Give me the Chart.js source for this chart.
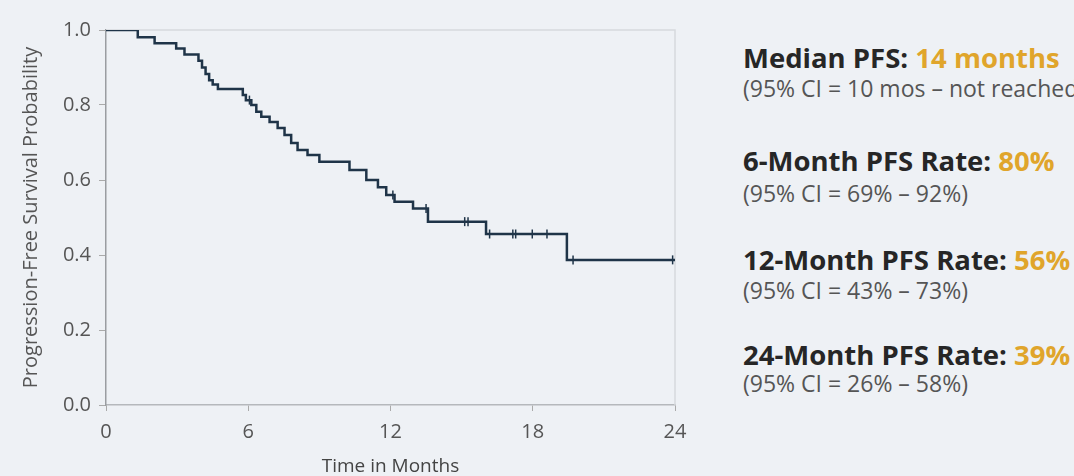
<!DOCTYPE html>
<html>
<head>
<meta charset="utf-8">
<script src="https://cdn.jsdelivr.net/npm/chart.js@4.4.1/dist/chart.umd.min.js"></script>
<style>
  html, body { margin: 0; padding: 0; width: 1074px; height: 476px; overflow: hidden; background: #eef1f5; }
  #wrap { position: absolute; left: 0; top: 0; width: 700px; height: 476px; }
  .txt { position: absolute; left: 743px; white-space: nowrap; font-family: "Open Sans", sans-serif; }
  .head { font-size: 27.5px; line-height: 28px; font-weight: 700; color: #262626; }
  .sub { font-size: 23px; line-height: 23px; color: #555; }
  .hl { color: #e0a52b; }
</style>
</head>
<body>
<div id="wrap"><canvas id="kmChart"></canvas></div>

<div class="txt head" style="top:44px">Median PFS: <span class="hl">14 months</span></div>
<div class="txt sub" style="top:77px">(95% CI = 10 mos – not reached)</div>
<div class="txt head" style="top:147px">6-Month PFS Rate: <span class="hl">80%</span></div>
<div class="txt sub" style="top:182px">(95% CI = 69% – 92%)</div>
<div class="txt head" style="top:246px">12-Month PFS Rate: <span class="hl">56%</span></div>
<div class="txt sub" style="top:279px">(95% CI = 43% – 73%)</div>
<div class="txt head" style="top:341px">24-Month PFS Rate: <span class="hl">39%</span></div>
<div class="txt sub" style="top:372px">(95% CI = 26% – 58%)</div>

<script>
// Kaplan-Meier step curve (time in months, survival after each event)
var eventTimes = [0, 1.34, 2.05, 2.96, 3.31, 3.9, 4.05, 4.2, 4.35, 4.5, 4.72, 5.77, 5.9, 6.13, 6.34, 6.55, 6.9, 7.24,
  7.53, 7.81, 8.08, 8.5, 9.0, 10.27, 10.98, 11.47, 11.82, 12.17, 12.95, 13.58, 16.03, 19.44, 24];
var survival = [1, 0.981, 0.965, 0.951, 0.935, 0.918, 0.900, 0.883, 0.866, 0.855, 0.843, 0.827, 0.813, 0.800, 0.782,
  0.769, 0.755, 0.739, 0.720, 0.699, 0.680, 0.667, 0.649, 0.627, 0.600, 0.581, 0.560, 0.542, 0.524, 0.489, 0.456, 0.387, 0.387];

// censored observations (tick marks)
var censorTimes = [6.05, 12.1, 13.5, 15.13, 15.27, 16.18, 17.16, 17.28, 17.98, 18.6, 19.7, 23.9];
var censorSurv = [0.813, 0.560, 0.524, 0.489, 0.489, 0.456, 0.456, 0.456, 0.456, 0.456, 0.387, 0.387];

var xTicks = [0, 6, 12, 18, 24];
var yTicks = [0, 0.2, 0.4, 0.6, 0.8, 1.0];

var lineColor = '#1f3448';

var curvePoints = eventTimes.map(function (t, i) { return { x: t, y: survival[i] }; });
var censorPoints = censorTimes.map(function (t, i) { return { x: t, y: censorSurv[i] }; });

// light frame on top and right of the plot area
var frame = {
  id: 'frame',
  beforeDatasetsDraw: function (chart) {
    var a = chart.chartArea, ctx = chart.ctx;
    ctx.save();
    ctx.strokeStyle = '#d6d9dd';
    ctx.lineWidth = 1.5;
    ctx.beginPath();
    ctx.moveTo(a.left, a.top);
    ctx.lineTo(a.right, a.top);
    ctx.lineTo(a.right, a.bottom);
    ctx.stroke();
    ctx.restore();
  }
};

var ctx = document.getElementById('kmChart').getContext('2d');
var kmChart = new Chart(ctx, {
  type: 'scatter',
  data: {
    datasets: [{
      data: curvePoints,
      showLine: true,
      stepped: 'before',
      borderColor: lineColor,
      borderWidth: 2.5,
      pointRadius: 0,
      fill: false
    }, {
      data: censorPoints,
      showLine: false,
      pointStyle: 'line',
      rotation: 90,
      pointRadius: 4.5,
      borderColor: lineColor,
      backgroundColor: lineColor,
      pointBorderWidth: 1.5
    }]
  },
  options: {
    responsive: true,
    maintainAspectRatio: false,
    animation: false,
    layout: { padding: { left: 0, right: 25, top: 30, bottom: 0 } },
    plugins: {
      legend: { display: false },
      tooltip: { enabled: false }
    },
    scales: {
      x: {
        type: 'linear',
        min: 0,
        max: 24,
        afterBuildTicks: function (scale) {
          scale.ticks = xTicks.map(function (v) { return { value: v }; });
        },
        afterFit: function (scale) { scale.height = 71; },
        grid: { display: true, drawOnChartArea: false, drawTicks: true, tickLength: 6, color: '#aaa' },
        border: { display: true, color: '#b5b8bc', width: 1.5 },
        ticks: { color: '#555', padding: 9, font: { family: 'Open Sans', size: 20 } },
        title: {
          display: true,
          text: 'Time in Months',
          color: '#444',
          padding: { top: 0, bottom: 0 },
          font: { family: 'Open Sans', size: 19, lineHeight: 1 }
        }
      },
      y: {
        min: 0,
        max: 1,
        afterBuildTicks: function (scale) {
          scale.ticks = yTicks.map(function (v) { return { value: v }; });
        },
        afterFit: function (scale) { scale.width = 106; },
        grid: { display: true, drawOnChartArea: false, drawTicks: true, tickLength: 7, color: '#aaa' },
        border: { display: true, color: '#9a9da1', width: 1.5 },
        ticks: {
          color: '#555',
          padding: 8,
          font: { family: 'Open Sans', size: 20 },
          callback: function (v) { return v.toFixed(1); }
        },
        title: {
          display: true,
          text: 'Progression-Free Survival Probability',
          color: '#555',
          padding: { top: 19, bottom: 0 },
          font: { family: 'Open Sans', size: 20 }
        }
      }
    }
  },
  plugins: [frame]
});
</script>
</body>
</html>
